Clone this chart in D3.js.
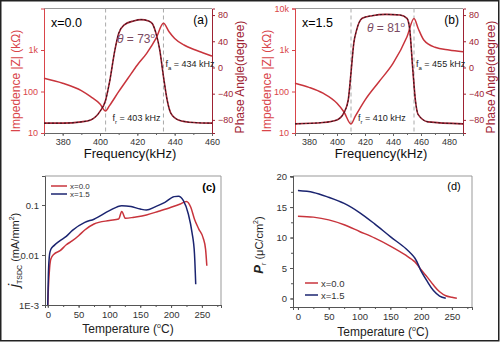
<!doctype html>
<html>
<head>
<meta charset="utf-8">
<script src="https://cdn.jsdelivr.net/npm/d3@7"></script>
<style>
  body { margin: 0; background: #fff; }
  svg { font-family: "Liberation Sans", Arial, sans-serif; }
</style>
</head>
<body>
<script>
// panel (a): x = 0.0
var freqA = [370, 380, 390, 395, 400, 403, 405, 410, 415, 420, 425, 430, 434, 437, 440, 445, 450, 455, 460]
var zA    = [208, 158, 105, 75, 50, 34, 45, 99, 208, 436, 830, 1900, 4400, 2760, 1900, 1320, 1040, 860, 716]
var phFreqA = [370, 380, 390, 395, 400, 403, 405, 408, 410, 413, 418, 422, 426, 428, 430, 432, 434, 436, 438, 442, 450, 460]
var phA     = [-85, -85, -83, -80, -67, -50, -24, 27, 52, 65, 71, 73, 71, 67, 52, 27, -14, -50, -70, -80, -84, -85]
// panel (b): x = 1.5
var freqB = [370, 380, 390, 400, 405, 410, 413, 420, 430, 440, 450, 455, 458, 462, 470, 480, 490]
var zB    = [158, 126, 91, 52, 32, 16.5, 25, 62, 172, 475, 2090, 5750, 3300, 1740, 1160, 1000, 910]
var phFreqB = [370, 390, 400, 405, 408, 410, 412, 414, 418, 425, 435, 445, 450, 452, 454, 456, 458, 465, 490]
var phB     = [-86, -84, -80, -69, -50, -8, 37, 57, 75, 79, 81, 80, 75, 57, 1, -50, -72, -83, -86]
// panel (c): TSDC current
var tempC0 = [0, 1, 3, 5, 10, 20, 30, 40, 50, 60, 75, 100, 115, 120, 126, 140, 160, 180, 200, 215, 225, 232, 238, 245, 252, 256, 258]
var jC0    = [0.001, 0.0022, 0.0056, 0.0083, 0.0104, 0.0122, 0.016, 0.0193, 0.0243, 0.0316, 0.0417, 0.049, 0.0525, 0.074, 0.054, 0.057, 0.063, 0.075, 0.09, 0.105, 0.118, 0.09, 0.052, 0.033, 0.022, 0.013, 0.0061]
var tempC1 = [0, 1, 3, 5, 10, 20, 30, 40, 60, 75, 100, 120, 135, 150, 160, 175, 190, 205, 212, 220, 228, 234, 238, 240]
var jC1    = [0.001, 0.0042, 0.0105, 0.013, 0.0154, 0.0194, 0.0236, 0.031, 0.045, 0.052, 0.077, 0.097, 0.093, 0.083, 0.079, 0.093, 0.113, 0.147, 0.149, 0.122, 0.066, 0.028, 0.0105, 0.0026]
// panel (d): remnant polarization
var tempD0 = [0, 25, 50, 75, 100, 125, 150, 175, 190, 200, 210, 220, 230, 240, 250, 258]
var prD0   = [13.5, 13.35, 12.9, 12.1, 11.0, 9.9, 8.6, 7.1, 6.0, 4.7, 3.5, 2.2, 1.1, 0.45, 0.2, 0.05]
var tempD1 = [0, 25, 50, 75, 100, 125, 150, 175, 190, 200, 210, 220, 230, 240]
var prD1   = [17.7, 17.4, 16.6, 15.6, 14.1, 12.2, 10.15, 8.2, 6.6, 4.5, 2.8, 1.3, 0.4, 0.05]

var zTicksA = [10, 100, 1000]
var zTicksB = [10, 100, 1000, 10000]
var phTicks = [-80, -40, 0, 40, 80]
var fTicksA = [380, 400, 420, 440, 460]
var fTicksB = [380, 400, 420, 440, 460, 480]
var jTicks = [0.001, 0.01, 0.1]
var tTicks = [0, 50, 100, 150, 200, 250]
var prTicks = [0, 5, 10, 15, 20]

var red = "#c8343c", darkRed = "#9e2233", pink = "#d9454a", navy = "#1b2470"

var svg = d3.select("body").append("svg")
  .attr("width", 500).attr("height", 343)

svg.append("rect").attr("x", 0.75).attr("y", 0.75).attr("width", 498).attr("height", 340)
  .attr("fill", "white").attr("stroke", "#222").attr("stroke-width", 1.5)

function fmtZ(d) { return d >= 1000 ? (d / 1000) + "k" : d }
function fmtJ(d) { return d == 0.001 ? "1E-3" : d }

function styleAxis(g, col, txtCol) {
  g.select(".domain").attr("stroke", col)
  g.selectAll(".tick line").attr("stroke", col)
  g.selectAll(".tick text").attr("fill", txtCol).attr("font-size", 9)
    .attr("font-family", "Liberation Sans, Arial, sans-serif")
}

function impedancePanel(opt) {
  var x = d3.scaleLinear().domain(opt.xdom).range([opt.left, opt.left + 168])
  var yL = d3.scaleLog().domain([10, 10000]).range([133, 8.5])
  var yR = d3.scaleLinear().domain([-100, 90]).range([133, 8.5])
  var g = svg.append("g")

  // frame top
  g.append("line").attr("x1", x.range()[0]).attr("x2", x.range()[1]).attr("y1", 8.5).attr("y2", 8.5)
    .attr("stroke", "#999")

  // dashed markers
  opt.marks.forEach(function(f) {
    g.append("line").attr("x1", x(f)).attr("x2", x(f)).attr("y1", 8.5).attr("y2", 133)
      .attr("stroke", "#aaa").attr("stroke-dasharray", "4,3")
  })

  var minor = d3.range(opt.xdom[0], opt.xdom[1] + 1, 10)
  g.append("g").attr("transform", "translate(0,133)")
    .call(d3.axisBottom(x).tickValues(minor).tickSize(2).tickFormat(""))
    .call(function(s) { styleAxis(s, "#666", "#333") })
  g.append("g").attr("transform", "translate(0,133)")
    .call(d3.axisBottom(x).tickValues(opt.fTicks).tickSize(3).tickPadding(3))
    .call(function(s) { styleAxis(s, "#666", "#333") })
  g.append("g").attr("transform", "translate(" + x.range()[0] + ",0)")
    .call(d3.axisLeft(yL).tickValues(opt.zTicks).tickSize(3).tickFormat(fmtZ))
    .call(function(s) { styleAxis(s, pink, pink) })
  g.append("g").attr("transform", "translate(" + x.range()[1] + ",0)")
    .call(d3.axisRight(yR).tickValues(phTicks).tickSize(3))
    .call(function(s) { styleAxis(s, darkRed, darkRed) })

  var zLine = d3.line().x(function(d) { return x(d[0]) }).y(function(d) { return yL(d[1]) })
    .curve(d3.curveMonotoneX)
  var pLine = d3.line().x(function(d) { return x(d[0]) }).y(function(d) { return yR(d[1]) })
    .curve(d3.curveMonotoneX)
  var zData = d3.zip(opt.freq, opt.z)
  var pData = d3.zip(opt.phFreq, opt.ph)

  g.append("path").attr("d", zLine(zData)).attr("fill", "none").attr("stroke", red).attr("stroke-width", 1.5)
  g.append("path").attr("d", pLine(pData)).attr("fill", "none").attr("stroke", darkRed).attr("stroke-width", 1.6)
  g.append("path").attr("d", pLine(pData)).attr("fill", "none").attr("stroke", "#111")
    .attr("stroke-width", 0.8).attr("stroke-dasharray", "2,2")

  var L = x.range()[0], R = x.range()[1]
  g.append("text").attr("x", L + 7).attr("y", 27).attr("font-size", 12.5).text(opt.label)
  g.append("text").attr("x", R - 4).attr("y", 24).attr("font-size", 12).attr("text-anchor", "end").text(opt.tag)

  var th = g.append("text").attr("x", opt.thetaX).attr("y", opt.thetaY).attr("font-size", 12)
    .attr("fill", "#7a4a62").attr("text-anchor", "middle")
  th.append("tspan").attr("font-style", "italic").text("θ")
  th.append("tspan").text(" = " + opt.theta)
  th.append("tspan").attr("dy", -5).attr("font-size", 8).text("o")

  function fLabel(xx, yy, sub, val) {
    var t = g.append("text").attr("x", xx).attr("y", yy).attr("font-size", 9).attr("fill", "#222")
    t.append("tspan").text("f")
    t.append("tspan").attr("dy", 3).attr("font-size", 6).text(sub)
    t.append("tspan").attr("dy", -3).text(" = " + val + " kHz")
  }
  fLabel(x(opt.marks[1]) + 2, 67, "a", opt.marks[1])
  fLabel(x(opt.marks[0]) + 7, 121, "r", opt.marks[0])

  g.append("text").attr("transform", "translate(" + (L - 24) + ",81) rotate(-90)")
    .attr("text-anchor", "middle").attr("font-size", 12).attr("fill", pink)
    .text("Impedence |Z| (kΩ)")
  g.append("text").attr("transform", "translate(" + (R + 32) + ",77) rotate(-90)")
    .attr("text-anchor", "middle").attr("font-size", 12).attr("fill", darkRed)
    .text("Phase Angle(degree)")
  g.append("text").attr("x", (L + R) / 2 + 2).attr("y", 158).attr("text-anchor", "middle")
    .attr("font-size", 13).attr("fill", "#111").text("Frequency(kHz)")
}

impedancePanel({ left: 44, xdom: [370, 460], fTicks: fTicksA, zTicks: zTicksA, freq: freqA, z: zA,
  phFreq: phFreqA, ph: phA, marks: [403, 434], label: "x=0.0", tag: "(a)", theta: 73, thetaX: 136, thetaY: 43 })
impedancePanel({ left: 295, xdom: [370, 490], fTicks: fTicksB, zTicks: zTicksB, freq: freqB, z: zB,
  phFreq: phFreqB, ph: phB, marks: [410, 455], label: "x=1.5", tag: "(b)", theta: 81, thetaX: 386, thetaY: 32 })

// ---- panel (c)
var xc = d3.scaleLinear().domain([-4.5, 281]).range([45, 221])
var yc = d3.scaleLog().domain([0.001, 0.38]).range([305, 176])
var gc = svg.append("g")
gc.append("path").attr("d", "M45,176H221V305").attr("fill", "none").attr("stroke", "#999")
gc.append("g").attr("transform", "translate(0,305)")
  .call(d3.axisBottom(xc).tickValues(d3.range(0, 276, 25)).tickSize(2).tickFormat(""))
  .call(function(s) { styleAxis(s, "#555", "#333") })
gc.append("g").attr("transform", "translate(0,305)")
  .call(d3.axisBottom(xc).tickValues(tTicks).tickSize(3))
  .call(function(s) { styleAxis(s, "#555", "#333"); s.selectAll("text").attr("font-size", 9.5) })
gc.append("g").attr("transform", "translate(45,0)")
  .call(d3.axisLeft(yc).tickValues(jTicks).tickSize(3).tickFormat(fmtJ))
  .call(function(s) { styleAxis(s, "#555", "#333"); s.selectAll("text").attr("font-size", 9.5) })
var lc = d3.line().x(function(d) { return xc(d[0]) }).y(function(d) { return yc(d[1]) }).curve(d3.curveMonotoneX)
gc.append("path").attr("d", lc(d3.zip(tempC0, jC0))).attr("fill", "none").attr("stroke", red).attr("stroke-width", 1.5)
gc.append("path").attr("d", lc(d3.zip(tempC1, jC1))).attr("fill", "none").attr("stroke", navy).attr("stroke-width", 1.5)
gc.append("line").attr("x1", 51).attr("x2", 67).attr("y1", 186).attr("y2", 186).attr("stroke", red).attr("stroke-width", 1.5)
gc.append("line").attr("x1", 51).attr("x2", 67).attr("y1", 194).attr("y2", 194).attr("stroke", navy).attr("stroke-width", 1.5)
gc.append("text").attr("x", 70).attr("y", 189).attr("font-size", 8).attr("fill", "#333").text("x=0.0")
gc.append("text").attr("x", 70).attr("y", 197).attr("font-size", 8).attr("fill", "#333").text("x=1.5")
gc.append("text").attr("x", 209).attr("y", 191).attr("font-size", 11).attr("font-weight", "bold")
  .attr("text-anchor", "middle").text("(c)")
var yl = gc.append("text").attr("transform", "translate(19,250) rotate(-90)").attr("text-anchor", "middle")
  .attr("font-size", 11).attr("fill", "#222")
yl.append("tspan").attr("font-style", "italic").attr("font-size", 15).text("j")
yl.append("tspan").attr("dy", 3).attr("font-size", 7).text("TSDC")
yl.append("tspan").attr("dy", -3).text(" (mA/mm")
yl.append("tspan").attr("dy", -5).attr("font-size", 7).text("2")
yl.append("tspan").attr("dy", 5).text(")")
var xl = gc.append("text").attr("x", 128).attr("y", 333).attr("text-anchor", "middle").attr("font-size", 12).attr("fill", "#222")
xl.append("tspan").text("Temperature (")
xl.append("tspan").attr("dy", -5).attr("font-size", 7).text("o")
xl.append("tspan").attr("dy", 5).text("C)")

// ---- panel (d)
var xd = d3.scaleLinear().domain([-8, 282.6]).range([293, 472])
var yd = d3.scaleLinear().domain([-1.4, 20.1]).range([307, 176])
var gd = svg.append("g")
gd.append("path").attr("d", "M293,176H472V307").attr("fill", "none").attr("stroke", "#999")
gd.append("g").attr("transform", "translate(0,307)")
  .call(d3.axisBottom(xd).tickValues(d3.range(0, 276, 25)).tickSize(2).tickFormat(""))
  .call(function(s) { styleAxis(s, "#555", "#333") })
gd.append("g").attr("transform", "translate(0,307)")
  .call(d3.axisBottom(xd).tickValues(tTicks).tickSize(3))
  .call(function(s) { styleAxis(s, "#555", "#333"); s.selectAll("text").attr("font-size", 9.5) })
gd.append("g").attr("transform", "translate(293,0)")
  .call(d3.axisLeft(yd).tickValues(d3.range(0, 20.1, 2.5)).tickSize(2).tickFormat(""))
  .call(function(s) { styleAxis(s, "#555", "#333") })
gd.append("g").attr("transform", "translate(293,0)")
  .call(d3.axisLeft(yd).tickValues(prTicks).tickSize(3))
  .call(function(s) { styleAxis(s, "#555", "#333"); s.selectAll("text").attr("font-size", 9.5) })
var ld = d3.line().x(function(d) { return xd(d[0]) }).y(function(d) { return yd(d[1]) }).curve(d3.curveCatmullRom)
gd.append("path").attr("d", ld(d3.zip(tempD0, prD0))).attr("fill", "none").attr("stroke", red).attr("stroke-width", 1.5)
gd.append("path").attr("d", ld(d3.zip(tempD1, prD1))).attr("fill", "none").attr("stroke", navy).attr("stroke-width", 1.5)
gd.append("line").attr("x1", 305).attr("x2", 318).attr("y1", 283).attr("y2", 283).attr("stroke", red).attr("stroke-width", 1.5)
gd.append("line").attr("x1", 305).attr("x2", 318).attr("y1", 295).attr("y2", 295).attr("stroke", navy).attr("stroke-width", 1.5)
gd.append("text").attr("x", 321).attr("y", 286.5).attr("font-size", 9.5).attr("fill", "#333").text("x=0.0")
gd.append("text").attr("x", 321).attr("y", 298.5).attr("font-size", 9.5).attr("fill", "#333").text("x=1.5")
gd.append("text").attr("x", 454).attr("y", 190).attr("font-size", 11)
  .attr("text-anchor", "middle").text("(d)")
var yl2 = gd.append("text").attr("transform", "translate(263,245) rotate(-90)").attr("text-anchor", "middle")
  .attr("font-size", 11).attr("fill", "#222")
yl2.append("tspan").attr("font-style", "italic").attr("font-weight", "bold").attr("font-size", 13).text("P")
yl2.append("tspan").attr("dy", 3).attr("font-size", 7).text("r")
yl2.append("tspan").attr("dy", -3).text(" (μC/cm")
yl2.append("tspan").attr("dy", -5).attr("font-size", 7).text("2")
yl2.append("tspan").attr("dy", 5).text(")")
var xl2 = gd.append("text").attr("x", 383).attr("y", 336).attr("text-anchor", "middle").attr("font-size", 12).attr("fill", "#222")
xl2.append("tspan").text("Temperature (")
xl2.append("tspan").attr("dy", -5).attr("font-size", 7).text("o")
xl2.append("tspan").attr("dy", 5).text("C)")
</script>
</body>
</html>
